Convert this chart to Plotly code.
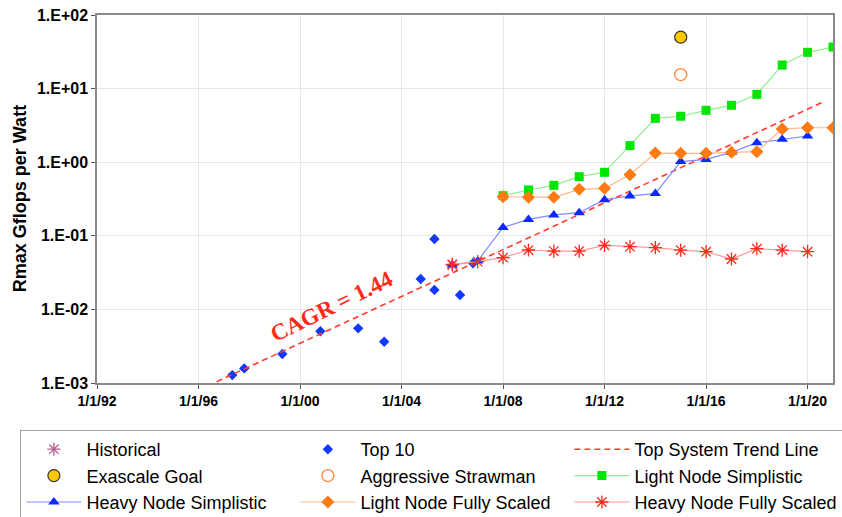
import plotly.graph_objects as go

# ---------------- data ----------------
historical_x = ["2006-01-01"]
historical_y = [0.040]

top10_x = ["1997-05-01", "1997-10-20", "1999-04-21", "2000-10-20", "2002-04-17",
           "2003-04-26", "2004-10-03", "2005-04-18", "2005-04-18", "2006-04-22", "2006-10-26"]
top10_y = [0.00128, 0.00158, 0.00248, 0.00504, 0.00553, 0.00364, 0.0259, 0.0906,
           0.0184, 0.0157, 0.0423]

trend_x = ["1996-01-01", "2020-08-15"]
trend_y = [0.0008, 6.6]

exascale_x = ["2015-01-01"]
exascale_y = [50.0]

strawman_x = ["2015-01-01"]
strawman_y = [15.5]

years_08_21 = ["2008-01-01", "2009-01-01", "2010-01-01", "2011-01-01", "2012-01-01",
               "2013-01-01", "2014-01-01", "2015-01-01", "2016-01-01", "2017-01-01",
               "2018-01-01", "2019-01-01", "2020-01-01", "2021-01-01"]
years_06_20 = ["2006-01-01", "2007-01-01", "2008-01-01", "2009-01-01", "2010-01-01",
               "2011-01-01", "2012-01-01", "2013-01-01", "2014-01-01", "2015-01-01",
               "2016-01-01", "2017-01-01", "2018-01-01", "2019-01-01", "2020-01-01"]

light_simplistic = [0.351, 0.419, 0.485, 0.636, 0.729, 1.68, 3.94, 4.21, 5.07, 5.93,
                    8.36, 20.9, 31.1, 36.7]
heavy_simplistic = [0.040, 0.0455, 0.130, 0.167, 0.192, 0.206, 0.31, 0.347, 0.377,
                    1.02, 1.09, 1.36, 1.84, 2.05, 2.27]
light_fully = [0.340, 0.333, 0.333, 0.428, 0.442, 0.676, 1.33, 1.32, 1.32, 1.36, 1.39,
               2.83, 2.94, 2.94]
heavy_fully = [0.041, 0.0445, 0.0505, 0.0641, 0.0621, 0.0621, 0.0743, 0.0711, 0.069,
               0.064, 0.0608, 0.0484, 0.0668, 0.064, 0.0608]

x_tick_vals = ["1992-01-01", "1996-01-01", "2000-01-01", "2004-01-01", "2008-01-01",
               "2012-01-01", "2016-01-01", "2020-01-01"]
x_tick_text = ["1/1/92", "1/1/96", "1/1/00", "1/1/04", "1/1/08", "1/1/12", "1/1/16", "1/1/20"]
y_tick_vals = [0.001, 0.01, 0.1, 1, 10, 100]
y_tick_text = ["1.E-03", "1.E-02", "1.E-01", "1.E+00", "1.E+01", "1.E+02"]

# ---------------- figure ----------------
FONT = "Liberation Sans, Arial, sans-serif"
fig = go.Figure()

fig.add_trace(go.Scatter(x=historical_x, y=historical_y, mode="markers", name="Historical",
                         marker=dict(symbol="asterisk-open", size=11, color="#b4608c",
                                     line=dict(color="#b4608c", width=1.3))))
fig.add_trace(go.Scatter(x=top10_x, y=top10_y, mode="markers", name="Top 10",
                         marker=dict(symbol="diamond", size=8, color="#1238ff")))
fig.add_trace(go.Scatter(x=trend_x, y=trend_y, mode="lines", name="Top System Trend Line",
                         line=dict(color="#ff3b30", width=1.6, dash="6px,4px")))
fig.add_trace(go.Scatter(x=exascale_x, y=exascale_y, mode="markers", name="Exascale Goal",
                         marker=dict(symbol="circle", size=12, color="#ffc800",
                                     line=dict(color="#333333", width=1.2))))
fig.add_trace(go.Scatter(x=strawman_x, y=strawman_y, mode="markers", name="Aggressive Strawman",
                         marker=dict(symbol="circle-open", size=12, color="#ff8c40",
                                     line=dict(color="#ff8c40", width=1.4))))
fig.add_trace(go.Scatter(x=years_08_21, y=light_simplistic, mode="lines+markers",
                         name="Light Node Simplistic",
                         line=dict(color="#8cf08c", width=1.2),
                         marker=dict(symbol="square", size=9, color="#00e600")))
fig.add_trace(go.Scatter(x=years_06_20, y=heavy_simplistic, mode="lines+markers",
                         name="Heavy Node Simplistic",
                         line=dict(color="#7f8cff", width=1.2),
                         marker=dict(symbol="triangle-up", size=10, color="#0a28ff")))
fig.add_trace(go.Scatter(x=years_08_21, y=light_fully, mode="lines+markers",
                         name="Light Node Fully Scaled",
                         line=dict(color="#ffb88a", width=1.2),
                         marker=dict(symbol="diamond", size=10, color="#ff7a10")))
fig.add_trace(go.Scatter(x=years_06_20, y=heavy_fully, mode="lines+markers",
                         name="Heavy Node Fully Scaled",
                         line=dict(color="#ff9a9a", width=1.2),
                         marker=dict(symbol="asterisk-open", size=11, color="#ff2a1a",
                                     line=dict(color="#ff2a1a", width=1.3))))

fig.add_annotation(x="2001-03-25", y=-1.954, xref="x", yref="y", text="<b>CAGR = 1.44</b>",
                   showarrow=False, textangle=-26, xanchor="center", yanchor="middle",
                   font=dict(family="Liberation Serif, Times New Roman, serif", size=23,
                             color="#ff2a1a"))
fig.add_annotation(x=-0.1043, y=0.5, xref="paper", yref="paper",
                   text="<b>Rmax Gflops per Watt</b>", showarrow=False, textangle=-90,
                   xanchor="center", yanchor="middle",
                   font=dict(family=FONT, size=18, color="#000000"))

fig.update_layout(
    width=842, height=517,
    margin=dict(l=97, r=9, t=15, b=134, autoexpand=False),
    paper_bgcolor="white", plot_bgcolor="white",
    font=dict(family=FONT, color="#000000"),
    showlegend=True,
    legend=dict(orientation="h", x=-0.1041, xanchor="left", y=-0.1277, yanchor="top",
                entrywidth=204, entrywidthmode="pixels", itemwidth=55,
                bordercolor="#a0a0a0", borderwidth=1, bgcolor="white",
                font=dict(family=FONT, size=18, color="#000000"),
                traceorder="normal"),
)
fig.update_xaxes(type="date", range=["1992-01-01", "2021-01-01"],
                 tickmode="array", tickvals=x_tick_vals, ticktext=x_tick_text,
                 tickfont=dict(family=FONT, size=14, color="#000000", weight="bold"),
                 showgrid=True, gridcolor="#e6e6e6", gridwidth=1,
                 showline=True, linecolor="#8a8a8a", linewidth=1.5, mirror=True,
                 ticks="outside", ticklen=4, tickcolor="#555555", zeroline=False)
fig.update_yaxes(type="log", range=[-3, 2],
                 tickmode="array", tickvals=y_tick_vals, ticktext=y_tick_text,
                 tickfont=dict(family=FONT, size=16, color="#000000", weight="bold"),
                 showgrid=True, gridcolor="#e6e6e6", gridwidth=1,
                 showline=True, linecolor="#8a8a8a", linewidth=1.5, mirror=True,
                 ticks="outside", ticklen=4, tickcolor="#555555", zeroline=False)

fig.write_html("out.html", config={"displayModeBar": False},
               post_script="document.body.style.margin='0';document.body.style.overflow='hidden';")
